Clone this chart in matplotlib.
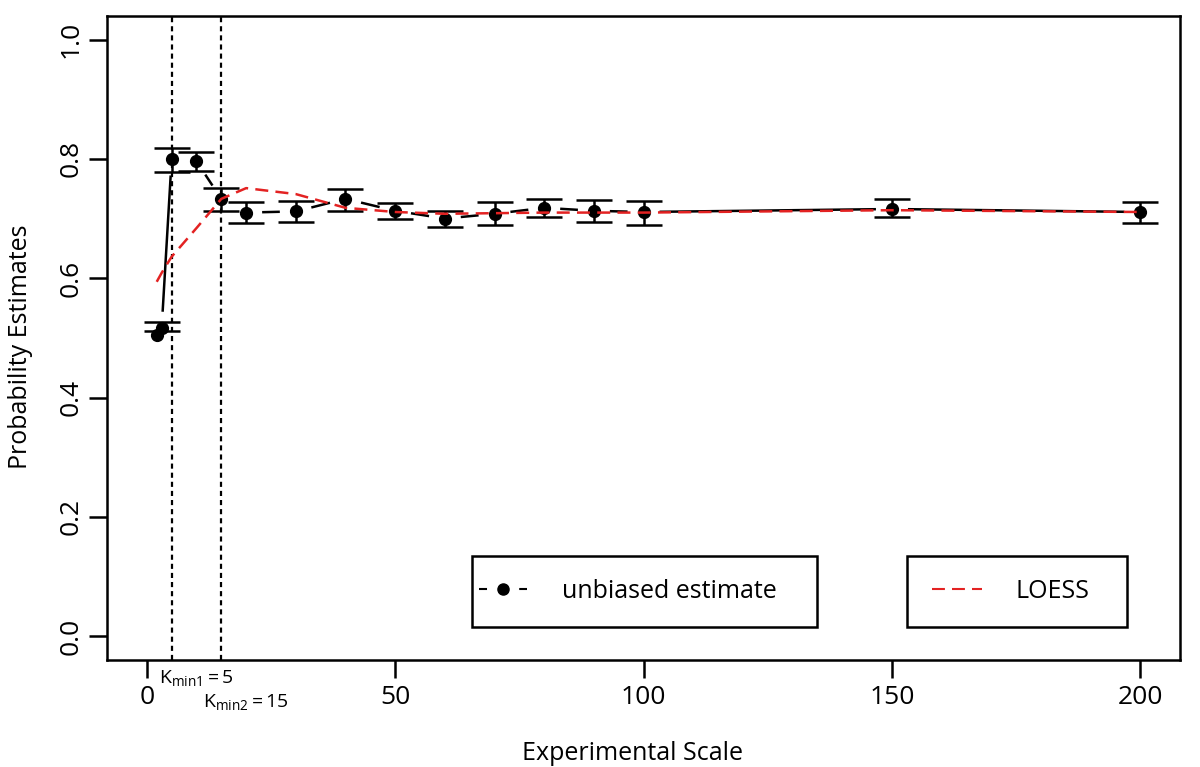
import numpy as np
import matplotlib
matplotlib.use('Agg')
import matplotlib.pyplot as plt
from matplotlib.lines import Line2D
from matplotlib.patches import Rectangle

plt.rcParams['font.family'] = ['Open Sans', 'DejaVu Sans']
plt.rcParams['mathtext.fontset'] = 'custom'
plt.rcParams['mathtext.rm'] = 'Open Sans'
plt.rcParams['mathtext.it'] = 'Open Sans:italic'

# Values
scale = np.array([2, 3, 5, 10, 15, 20, 30, 40, 50, 60, 70, 80, 90, 100, 150, 200])
estimate = np.array([0.505, 0.517, 0.799, 0.796, 0.733, 0.710, 0.712, 0.733,
                     0.713, 0.700, 0.708, 0.718, 0.713, 0.711, 0.716, 0.711])
ci_low = np.array([np.nan, 0.511, 0.778, 0.780, 0.713, 0.693, 0.695, 0.712,
                   0.699, 0.686, 0.689, 0.702, 0.694, 0.690, 0.703, 0.693])
ci_high = np.array([np.nan, 0.526, 0.819, 0.811, 0.751, 0.728, 0.730, 0.750,
                    0.726, 0.712, 0.727, 0.733, 0.731, 0.729, 0.733, 0.728])
loess = np.array([0.594, 0.609, 0.636, 0.684, 0.733, 0.751, 0.741, 0.718,
                  0.711, 0.708, 0.709, 0.710, 0.710, 0.710, 0.714, 0.711])
kmin = [5, 15]
kmin_labels = [r'$\mathregular{K_{min1} = 5}$', r'$\mathregular{K_{min2} = 15}$']
xticks = [0, 50, 100, 150, 200]
yticks = [0.0, 0.2, 0.4, 0.6, 0.8, 1.0]

RED = '#e32222'
LW = 1.8

fig = plt.figure(figsize=(12, 7.67), dpi=100)
ax = fig.add_axes([0.0892, 0.1395, 0.8942, 0.8400])
ax.set_xlim(-8, 208)
ax.set_ylim(-0.04, 1.04)

# Kmin reference lines
for k in kmin:
    ax.axvline(k, color='k', lw=1.6, linestyle=(0, (2.3, 1.8)), zorder=1)

# error bars
m = ~np.isnan(ci_low)
ax.errorbar(scale[m], estimate[m],
            yerr=[estimate[m] - ci_low[m], ci_high[m] - estimate[m]],
            fmt='none', ecolor='k', elinewidth=LW, capsize=13.3, capthick=LW,
            zorder=2)

# R type="b" line: segments with a gap around each point
pix = ax.transData.transform(np.column_stack([scale, estimate]))
inv = ax.transData.inverted()
gap = 16
for p, q in zip(pix[:-1], pix[1:]):
    d = q - p
    length = np.hypot(*d)
    if length <= 2 * gap:
        continue
    u = d / length
    seg = inv.transform(np.array([p + u * gap, q - u * gap]))
    ax.plot(seg[:, 0], seg[:, 1], color='k', lw=LW, solid_capstyle='butt', zorder=3)

ax.plot(scale, estimate, 'o', color='k', ms=8.5, zorder=4)
ax.plot(scale, loess, color=RED, lw=LW, linestyle=(0, (5.2, 2.9)), zorder=5)

# axes styling
ax.set_xticks(xticks)
ax.set_xticklabels([str(t) for t in xticks])
ax.set_yticks(yticks)
ax.set_yticklabels(['%.1f' % t for t in yticks])
ax.tick_params(direction='out', length=13, width=LW, labelsize=19)
ax.tick_params(axis='x', pad=5)
ax.tick_params(axis='y', pad=4)
plt.setp(ax.get_yticklabels(), rotation=90, va='center')
for s in ax.spines.values():
    s.set_linewidth(LW)

# Kmin labels under the axis
for xpos, ypos, lab in zip([2.4, 11.3], [-0.0357, -0.0729], kmin_labels):
    ax.text(xpos, ypos, lab, transform=ax.get_xaxis_transform(), fontsize=14,
            ha='left', va='baseline', clip_on=False)

fig.text(633 / 1200, 7 / 767, 'Experimental Scale', ha='center', va='baseline', fontsize=18)
fig.text(20.5 / 1200, (767 - 347) / 767, 'Probability Estimates', rotation=90,
         ha='center', va='center', fontsize=18)

# legends: boxes drawn separately, content placed inside
for x0, x1 in [(0.3402, 0.6617), (0.7456, 0.9506)]:
    ax.add_patch(Rectangle((x0, 0.0512), x1 - x0, 0.1102, transform=ax.transAxes,
                           facecolor='white', edgecolor='k', lw=LW, zorder=6))

h1 = Line2D([], [], color='k', lw=1.5, linestyle=(0, (3.85, 5.8)), marker='o', ms=8)
h2 = Line2D([], [], color=RED, lw=1.5, linestyle=(0, (6.2, 3.4)))
leg1 = ax.legend([h1], ['unbiased estimate'], loc='center left', bbox_to_anchor=(0.3467, 0.1063),
                 frameon=False, borderpad=0, borderaxespad=0, handlelength=1.92,
                 handletextpad=1.4, fontsize=18)
leg1.set_zorder(7)
ax.add_artist(leg1)
leg2 = ax.legend([h2], ['LOESS'], loc='center left', bbox_to_anchor=(0.7689, 0.1063),
                 frameon=False, borderpad=0, borderaxespad=0, handlelength=2.0,
                 handletextpad=1.32, fontsize=18)
leg2.set_zorder(7)

fig.savefig('out.png', dpi=100)
